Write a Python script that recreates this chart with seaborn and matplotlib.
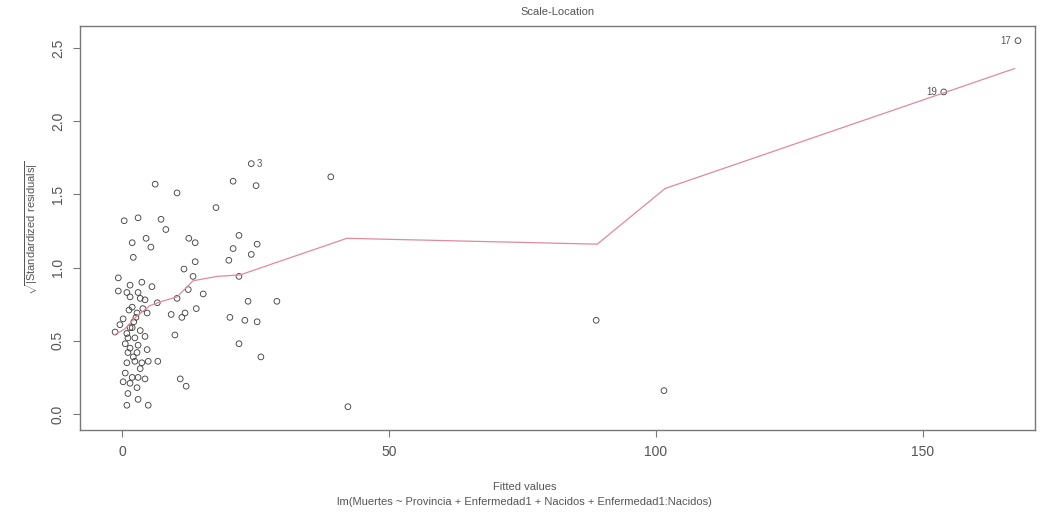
import numpy as np
import pandas as pd
import matplotlib
matplotlib.use("Agg")
import matplotlib.pyplot as plt
import seaborn as sns

# ---- data ----
fitted = [
    167.8, 153.9, 24.2,
    6.2, 10.3, 20.8, 25.1, 17.6, 0.4, 3.0, 7.3, 8.2, 1.9, 4.5, 5.4, 12.5, 13.7,
    21.9, 20.8, 25.3, 24.2, 2.1, 20.0, 13.7, 11.6, 13.3, 21.9, 12.4, 15.2, 10.3,
    6.6, 23.6, 29.0, 9.2, 11.2, 11.8, 13.9, 20.2, 23.0, 25.3, 9.9, 21.9, 26.0,
    6.7, 10.9, 12.0, 39.1, 42.3, 88.8, 101.5,
    -0.7, 1.5, 3.7, 5.6, -0.7, 0.9, 3.0, 3.4, 1.5, 4.3, 1.9, 3.9, 2.8, 4.7, 0.2,
    2.2, -0.4, 1.5, 3.4, -1.3, 0.9, 2.4, 4.3, 0.6, 3.0, 1.5, 1.1, 2.8, 4.7, 0.9,
    2.4, 3.7, 4.9, 0.6, 1.9, 3.0, 4.3, 0.2, 1.5, 2.8, 1.1, 3.0, 0.9, 4.9,
    1.3, 2.6, 1.9, 1.1, 2.1, 3.4,
]
sqrt_std_resid = [
    2.55, 2.20, 1.71,
    1.57, 1.51, 1.59, 1.56, 1.41, 1.32, 1.34, 1.33, 1.26, 1.17, 1.20, 1.14, 1.20, 1.17,
    1.22, 1.13, 1.16, 1.09, 1.07, 1.05, 1.04, 0.99, 0.94, 0.94, 0.85, 0.82, 0.79,
    0.76, 0.77, 0.77, 0.68, 0.66, 0.69, 0.72, 0.66, 0.64, 0.63, 0.54, 0.48, 0.39,
    0.36, 0.24, 0.19, 1.62, 0.05, 0.64, 0.16,
    0.93, 0.88, 0.90, 0.87, 0.84, 0.83, 0.83, 0.79, 0.80, 0.78, 0.73, 0.72, 0.69, 0.69, 0.65,
    0.63, 0.61, 0.59, 0.57, 0.56, 0.55, 0.52, 0.53, 0.48, 0.47, 0.45, 0.42, 0.42, 0.44, 0.35,
    0.36, 0.35, 0.36, 0.28, 0.25, 0.25, 0.24, 0.22, 0.21, 0.18, 0.14, 0.10, 0.06, 0.06,
    0.71, 0.66, 0.59, 0.52, 0.39, 0.31,
]
point_labels = ["17", "19", "3"]          # labels of the first three points

smooth_x = [-1.5, 0.5, 2.5, 5.2, 7.5, 10.3, 13.3, 17.8, 22.1, 42.1, 89.0, 101.7, 167.2]
smooth_y = [0.54, 0.58, 0.66, 0.74, 0.77, 0.80, 0.91, 0.94, 0.95, 1.20, 1.16, 1.54, 2.36]

x_ticks = [0, 50, 100, 150]
y_ticks = [0.0, 0.5, 1.0, 1.5, 2.0, 2.5]

title = "Scale-Location"
xlabel = "Fitted values"
subtitle = "lm(Muertes ~ Provincia + Enfermedad1 + Nacidos + Enfermedad1:Nacidos)"

pts = pd.DataFrame({"fitted": fitted, "resid": sqrt_std_resid})
smooth = pd.DataFrame({"x": smooth_x, "y": smooth_y})

# ---- drawing ----
sns.set_theme(style="ticks")
plt.rcParams["font.family"] = ["Liberation Sans", "DejaVu Sans"]
plt.rcParams["mathtext.fontset"] = "custom"
plt.rcParams["mathtext.rm"] = "Liberation Sans"

fig = plt.figure(figsize=(10.49, 5.16), dpi=100)
ax = fig.add_axes([0.0763, 0.1667, 0.9104, 0.7829])

txt = "#555555"
sns.scatterplot(data=pts, x="fitted", y="resid", ax=ax, marker="o", s=17,
                facecolor="none", edgecolor="#444444", linewidth=0.65, legend=False)
sns.lineplot(data=smooth, x="x", y="y", ax=ax, sort=False, color="#e08a9e",
             linewidth=0.9, legend=False)

# point labels (R places them left/right of the point)
for i, lab in enumerate(point_labels):
    xv, yv = fitted[i], sqrt_std_resid[i]
    if xv > 80:
        ax.annotate(lab, (xv, yv), xytext=(-5, 0), textcoords="offset points",
                    ha="right", va="center", fontsize=7, color=txt)
    else:
        ax.annotate(lab, (xv, yv), xytext=(4, 0), textcoords="offset points",
                    ha="left", va="center", fontsize=7, color=txt)

ax.set_xlim(-7.87, 171.0)
ax.set_ylim(-0.109, 2.65)
ax.set_xticks(x_ticks)
ax.set_xticklabels([str(t) for t in x_ticks])
ax.set_yticks(y_ticks)
ax.set_yticklabels([f"{t:.1f}" for t in y_ticks], rotation=90, va="center")
ax.tick_params(axis="both", labelsize=10, colors="#777777", labelcolor=txt,
               length=5, width=0.8, direction="out")
ax.tick_params(axis="y", pad=6)
ax.tick_params(axis="x", pad=6)
for s in ax.spines.values():
    s.set_visible(True)
    s.set_color("#777777")
    s.set_linewidth(1.0)

ax.set_xlabel("")
ax.set_ylabel(r"$\sqrt{|\mathrm{Standardized\ residuals}|}$", fontsize=8, color=txt, labelpad=8)
ax.set_title(title, fontsize=8, color=txt, pad=8)

fig.text(0.5004, 1 - 487 / 516, xlabel, ha="center", va="center", fontsize=8, color=txt)
fig.text(0.5004, 1 - 502 / 516, subtitle, ha="center", va="center", fontsize=8, color=txt)

fig.savefig("out.png", dpi=100)
